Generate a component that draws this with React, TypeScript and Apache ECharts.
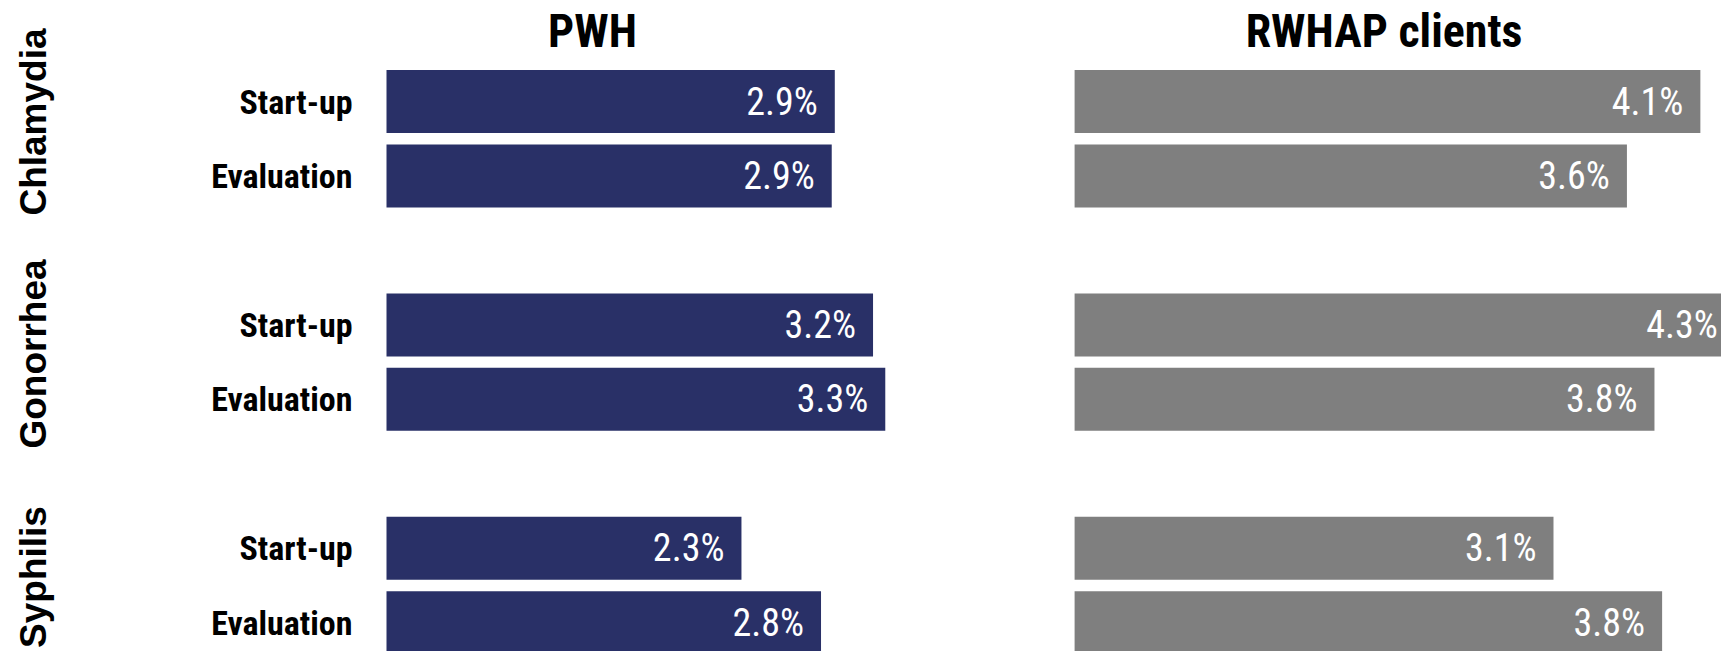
import React, { useEffect, useRef } from "react";
import * as echarts from "echarts";

const DISEASES = ["Chlamydia", "Gonorrhea", "Syphilis"];
const PHASES = ["Start-up", "Evaluation"];
const PANEL_TITLES = ["PWH", "RWHAP clients"];
// values per disease: [Start-up, Evaluation]
const PWH_VALUES = [
  [2.93, 2.91],
  [3.18, 3.26],
  [2.32, 2.84],
];
const RWHAP_VALUES = [
  [4.09, 3.61],
  [4.28, 3.79],
  [3.13, 3.84],
];

const AXIS_MAX = 4.23;
const NARROW = "'Roboto Condensed', 'DejaVu Sans Condensed', sans-serif";

export default function App() {
  const ref = useRef<HTMLDivElement>(null);

  useEffect(() => {
    document.body.style.margin = "0";
    const chart = echarts.init(ref.current!, null, { renderer: "svg" });

    const cats: string[] = [];
    DISEASES.forEach((d, i) => {
      PHASES.forEach((p) => cats.push(`${d}|${p}`));
      if (i < DISEASES.length - 1) cats.push(`${d}|`);
    });
    const build = (vals: number[][]) => {
      const out: any[] = [];
      vals.forEach((pair, i) => {
        pair.forEach((v) => out.push(v > AXIS_MAX ? { value: v, label: { distance: 4 } } : v));
        if (i < vals.length - 1) out.push("-");
      });
      return out;
    };

    const gridTop = 64.3;
    const slot = 74.45;
    const gridH = slot * cats.length;
    const pxPer = 153;
    const gridW = AXIS_MAX * pxPer;
    const lefts = [386.5, 1074.6];
    const colors = ["#293067", "#7f7f7f"];
    const seriesVals = [PWH_VALUES, RWHAP_VALUES];

    chart.setOption({
      animation: false,
      grid: lefts.map((l) => ({
        left: l,
        top: gridTop,
        width: gridW,
        height: gridH,
        containLabel: false,
        outerBoundsMode: "none",
      })),
      xAxis: lefts.map((_, i) => ({ type: "value", gridIndex: i, min: 0, max: AXIS_MAX, show: false })),
      yAxis: lefts.map((_, i) => ({
        type: "category",
        gridIndex: i,
        data: cats,
        inverse: true,
        axisLine: { show: false },
        axisTick: { show: false },
        splitLine: { show: false },
        axisLabel: {
          show: i === 0,
          margin: 34,
          formatter: (v: string) => v.split("|")[1],
          fontFamily: NARROW,
          fontWeight: "bold",
          fontSize: 34,
          color: "#000",
        },
      })),
      series: seriesVals.map((vals, i) => ({
        type: "bar",
        xAxisIndex: i,
        yAxisIndex: i,
        data: build(vals),
        barWidth: 63,
        clip: true,
        itemStyle: { color: colors[i] },
        label: {
          show: true,
          position: "insideRight",
          distance: 17,
          formatter: (p: any) => `${Number(p.value).toFixed(1)}%`,
          color: "#fff",
          fontFamily: NARROW,
          fontSize: 38,
        },
      })),
      graphic: [
        ...PANEL_TITLES.map((t, i) => ({
          type: "text",
          x: [592.5, 1384][i],
          y: 31,
          style: {
            text: t,
            textAlign: "center",
            textVerticalAlign: "middle",
            font: `bold 46px ${NARROW}`,
            fill: "#000",
          },
        })),
        ...DISEASES.map((d, i) => ({
          type: "text",
          x: 33,
          y: [122, 354, 577][i],
          rotation: Math.PI / 2,
          style: {
            text: d,
            textAlign: "center",
            textVerticalAlign: "middle",
            font: "bold 37px 'Liberation Sans', Arial, sans-serif",
            fill: "#000",
          },
        })),
      ],
    });
    return () => chart.dispose();
  }, []);

  return <div ref={ref} style={{ position: "absolute", left: 0, top: 0, width: 1721, height: 651 }} />;
}
